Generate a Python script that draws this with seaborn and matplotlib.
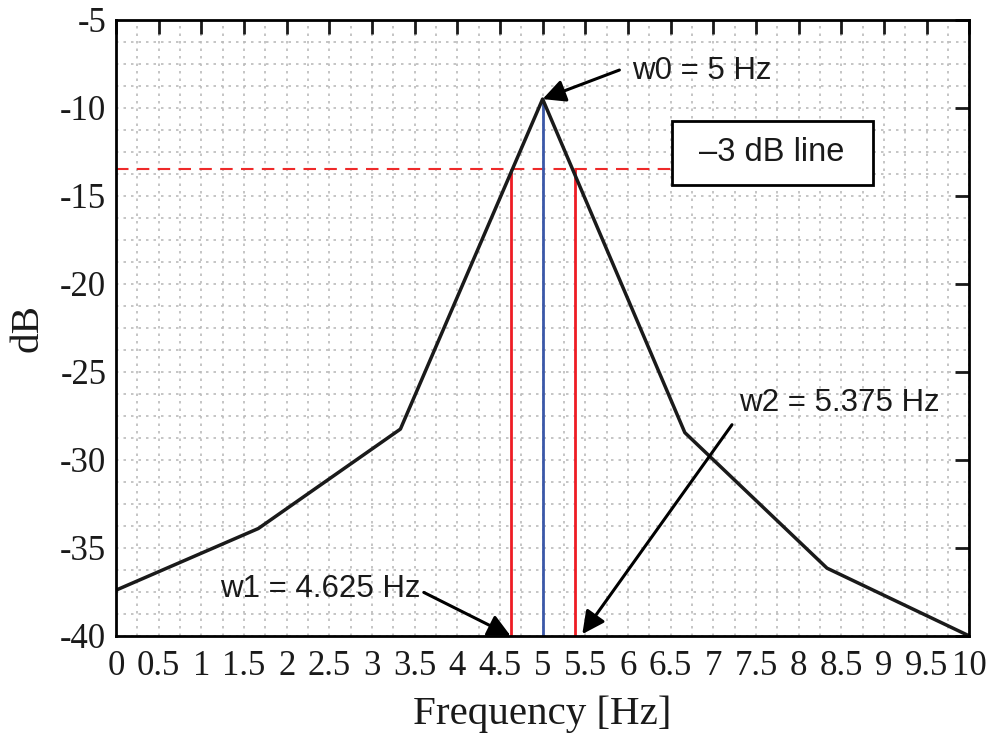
import numpy as np
import pandas as pd
import matplotlib
matplotlib.use("Agg")
import matplotlib.pyplot as plt
from matplotlib.patches import Rectangle
import seaborn as sns

# Data
freq = [0, 1.667, 3.333, 5, 6.667, 8.333, 10]
db = [-37.4, -33.9, -28.25, -9.5, -28.45, -36.15, -40]
w0 = 5
w1 = 4.625
w2 = 5.375
peak_db = -9.5
line_3db = -13.45

df = pd.DataFrame({"Frequency": freq, "dB": db})

sns.set_style("white")
plt.rcParams['font.family'] = ['Liberation Serif', 'DejaVu Serif']

fig = plt.figure(figsize=(9.92, 7.36), dpi=100)
ax = fig.add_axes([0.117, 0.136, 0.86, 0.837])

# grid every 0.25 Hz / 1.25 dB
ax.set_xticks(np.arange(0, 10.01, 0.25), minor=True)
ax.set_yticks(np.arange(-40, -4.9, 1.25), minor=True)
ax.grid(which='both', color='#bbbbbb', linestyle=(0, (1.5, 3)), linewidth=1.2)
ax.set_axisbelow(True)

ax.axhline(line_3db, color='#ee2a2a', linestyle=(0, (6, 4)), lw=1.5, xmax=0.65)
ax.vlines([w1, w2], -40, line_3db, colors='#ee1c24', lw=2)
ax.vlines([w0], -40, peak_db, colors='#3b58a8', lw=2)

sns.lineplot(data=df, x="Frequency", y="dB", color='#1a1a1a', lw=2.5, ax=ax)

ax.set_xlim(0, 10)
ax.set_ylim(-40, -5)
xt = np.arange(0, 10.01, 0.5)
ax.set_xticks(xt)
ax.set_xticklabels([f"{v:g}" for v in xt])
ax.set_yticks(np.arange(-40, -4.9, 5))
ax.set_yticklabels([f"{v:g}" for v in np.arange(-40, -4.9, 5)])
ax.tick_params(which='major', direction='in', length=10, width=2,
               top=True, right=True, labelsize=25, pad=7, colors='#1a1a1a')
ax.tick_params(axis='x', which='major', pad=10)
ax.tick_params(which='minor', length=0)
for s in ax.spines.values():
    s.set_linewidth(2)
    s.set_color('black')

ax.set_xlabel("Frequency [Hz]", fontsize=29.5, labelpad=9, color='#1a1a1a')
ax.set_ylabel("dB", fontsize=29.5, labelpad=10, color='#1a1a1a')

afont = dict(family=['Liberation Sans', 'DejaVu Sans'], fontsize=22.5, color='#1a1a1a')
arrow = dict(arrowstyle='-|>', color='black', lw=2.2, mutation_scale=34,
             shrinkA=0, shrinkB=0)

ax.text(6.05, -7.9, "w0 = 5 Hz", va='center', ha='left', **afont)
ax.annotate("", xy=(w0, peak_db), xytext=(5.9, -7.85), arrowprops=arrow)
ax.annotate("w1 = 4.625 Hz", xy=(w1, -40), xytext=(1.22, -37.35),
            va='center', ha='left', arrowprops=dict(arrow, relpos=(1, 0.45)), **afont)
ax.text(7.3, -26.75, "w2 = 5.375 Hz", va='center', ha='left', **afont)
# arrow for w2 starts below-left of its text
ax.annotate("", xy=(w2 + 0.09, -39.9), xytext=(7.22, -28.0), arrowprops=arrow)

# -3 dB label box
ax.add_patch(Rectangle((6.52, -14.38), 2.35, 3.64, fc='white', ec='black', lw=2, zorder=4))
ax.text(7.69, -12.56, "\u20133 dB line", ha='center', va='center', zorder=5,
        family=['Liberation Sans', 'DejaVu Sans'], fontsize=23.5, color='#1a1a1a')

fig.savefig("out.png", dpi=100)
